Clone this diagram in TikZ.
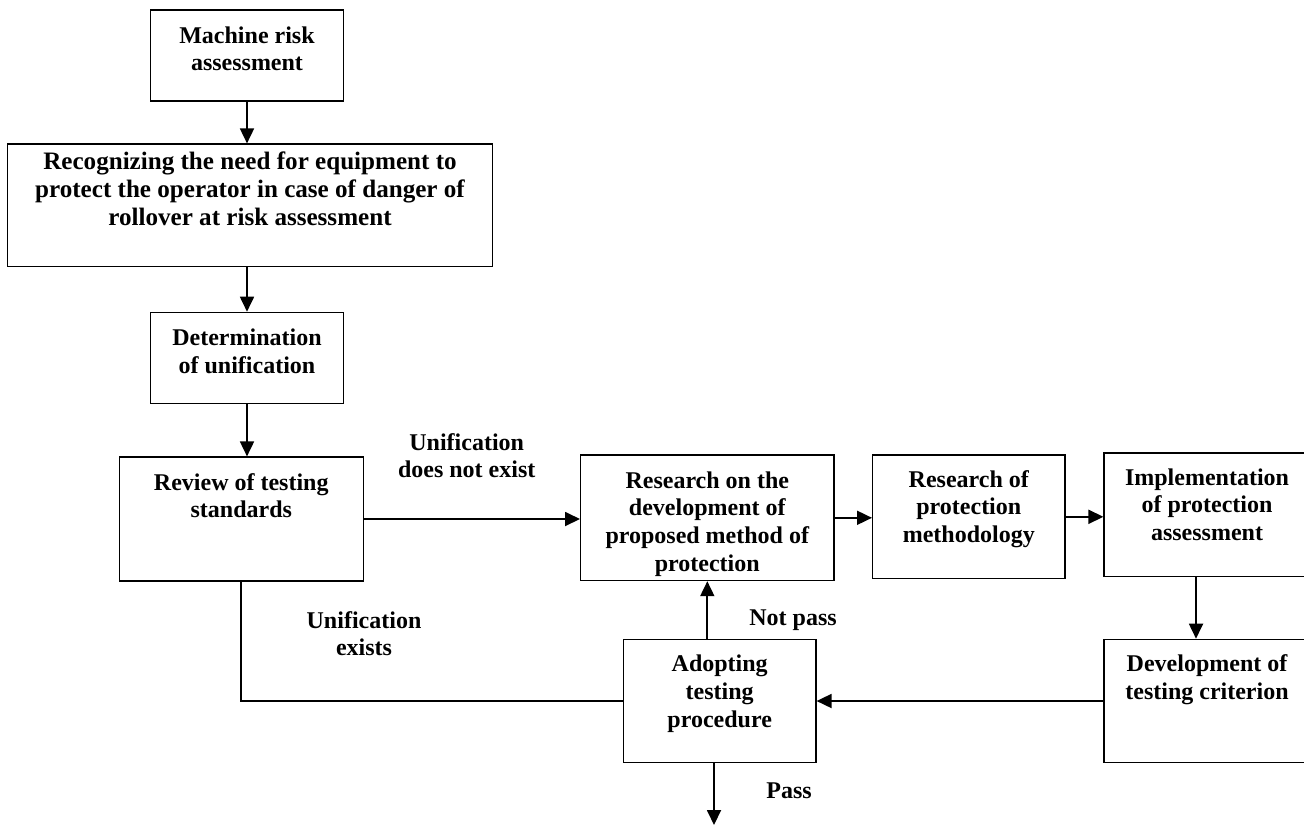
\documentclass[tikz,border=0pt]{standalone}
\usepackage{fontspec}
\setmainfont{Liberation Serif}
\usetikzlibrary{arrows.meta}
\newcommand{\boxtext}[4]{\parbox[c][#2][t]{#1}{\centering\rule{0pt}{#3}#4}}

\begin{document}
\begin{tikzpicture}[x=0.5pt, y=-0.5pt,
    font=\fontsize{12}{13.9}\selectfont\bfseries,
    box/.style={draw, line width=0.6pt, inner sep=0pt},
    flow/.style={line width=0.9pt, -{Triangle[length=7.5pt, width=7pt]}},
    link/.style={line width=0.9pt},
    lbl/.style={inner sep=0pt, align=center}]
    \useasboundingbox (0,0) rectangle (1304,825);

    % Left column
    \node[box] (machine) at (247,55.5) {\boxtext{96.3pt}{45.5pt}{16.5pt}{Machine risk\\assessment}};
    \node[box] (recog) at (250,205.3) {\boxtext{242.7pt}{61.3pt}{12.5pt}{\fontsize{12.55}{14}\selectfont Recognizing the need for equipment to\\protect the operator in case of danger of\\rollover at risk assessment}};
    \node[box] (determ) at (247,357.8) {\boxtext{96.3pt}{45.5pt}{16.8pt}{Determination\\of unification}};
    \node[box] (review) at (241.3,519) {\boxtext{122pt}{62pt}{16.5pt}{Review of testing\\standards}};

    % Upper row
    \node[box] (rdev) at (707.3,517.8) {\boxtext{126.7pt}{62.8pt}{16.5pt}{Research on the\\development of\\proposed method of\\protection}};
    \node[box] (rprot) at (968.8,516.8) {\boxtext{96.2pt}{61.8pt}{16pt}{Research of\\protection\\methodology}};
    \node[box] (impl) at (1207,514.8) {\boxtext{103pt}{61.8pt}{16pt}{Implementation\\of protection\\assessment}};

    % Lower row
    \node[box] (devcrit) at (1207,701) {\boxtext{103pt}{61.7pt}{16.3pt}{Development of\\testing criterion}};
    \node[box] (adopt) at (719.7,701) {\boxtext{96.3pt}{61.7pt}{16.3pt}{Adopting\\testing\\procedure}};

    % Connectors
    \draw[flow] (machine.south) -- (machine.south |- recog.north);
    \draw[flow] (determ.north |- recog.south) -- (determ.north);
    \draw[flow] (determ.south) -- (determ.south |- review.north);
    \draw[flow] (review.east) -- (review.east -| rdev.west);
    \draw[flow] (rdev.east) -- (rdev.east -| rprot.west);
    \draw[flow] (rprot.east) -- (rprot.east -| impl.west);
    \draw[flow] ([xshift=-5.5pt]impl.south) -- ([xshift=-5.5pt]impl.south |- devcrit.north);
    \draw[flow] (devcrit.west) -- (devcrit.west -| adopt.east);
    \draw[flow] (rdev.south |- adopt.north) -- (rdev.south);
    \draw[link] (review.south) |- (adopt.west);
    \coordinate (exit) at (714,825);
    \draw[flow] (adopt.south -| exit) -- (exit);

    % Labels
    \node[lbl, anchor=north] (nounif) at (466.7,432.8) {Unification\\does not exist};
    \node[lbl, anchor=north] (unif) at (364,610.8) {Unification\\exists};
    \node[lbl, anchor=base] (notpass) at (793,625) {Not pass};
    \node[lbl, anchor=base] (pass) at (789,798.3) {Pass};
\end{tikzpicture}
\end{document}
